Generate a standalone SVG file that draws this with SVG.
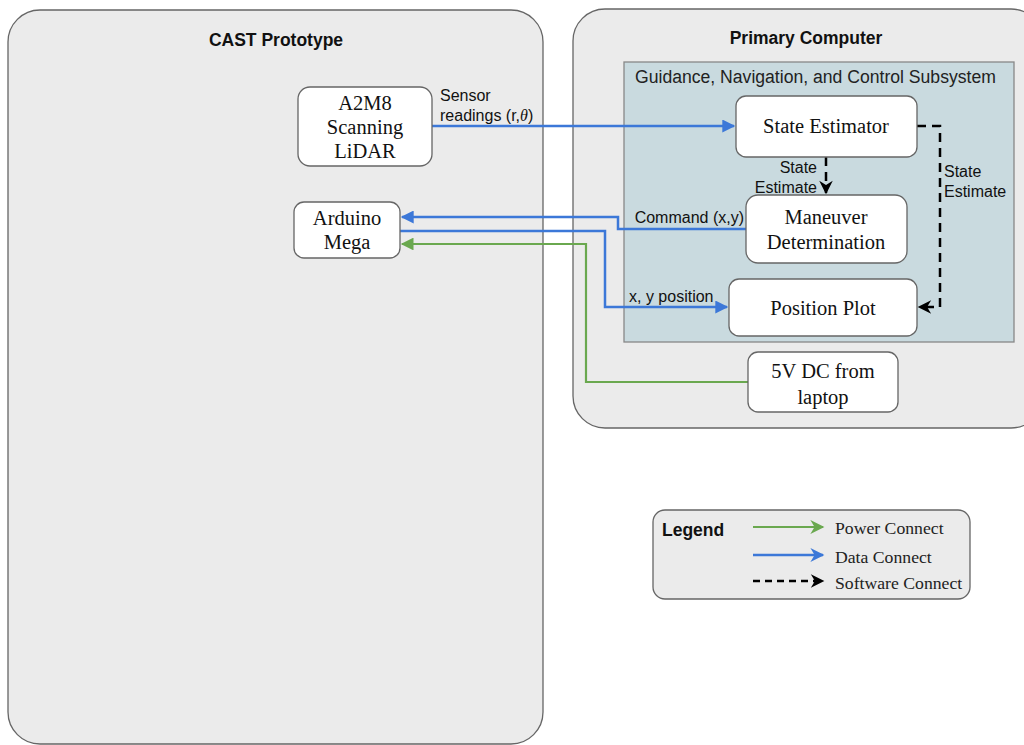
<svg xmlns="http://www.w3.org/2000/svg" width="1024" height="745" viewBox="0 0 1024 745">
<style>
.cont{fill:#ebebeb;stroke:#666;stroke-width:1.3}
.gnc{fill:#c9dadf;stroke:#888;stroke-width:1.3}
.node{fill:#fff;stroke:#666;stroke-width:1.3}
.nt{font-family:"Liberation Serif",serif;font-size:20.5px;fill:#111;text-anchor:middle}
.lt{font-family:"Liberation Serif",serif;font-size:17.7px;fill:#222}
.title{font-family:"Liberation Sans",Arial,sans-serif;font-size:17.5px;font-weight:bold;fill:#111;text-anchor:middle}
.lab{font-family:"Liberation Sans",Arial,sans-serif;font-size:16px;fill:#111}
.blue{fill:none;stroke:#3c78d8;stroke-width:2.5}
.green{fill:none;stroke:#6aa84f;stroke-width:2.2}
.dash{fill:none;stroke:#000;stroke-width:2.5;stroke-dasharray:9 6}
</style>
<defs>
<marker id="ab" viewBox="0 0 10 10" refX="9" refY="5" markerWidth="7" markerHeight="5.2" markerUnits="strokeWidth" orient="auto"><path d="M0,0 L10,5 L0,10 z" fill="#3c78d8"/></marker>
<marker id="ag" viewBox="0 0 10 10" refX="9" refY="5" markerWidth="8" markerHeight="5.8" markerUnits="strokeWidth" orient="auto"><path d="M0,0 L10,5 L0,10 z" fill="#6aa84f"/></marker>
<marker id="ak" viewBox="0 0 10 10" refX="9" refY="5" markerWidth="6.2" markerHeight="5.4" markerUnits="strokeWidth" orient="auto"><path d="M0,0 L10,5 L0,10 L3,5 z" fill="#000"/></marker>
<marker id="lb" viewBox="0 0 10 10" refX="9" refY="5" markerWidth="7.5" markerHeight="5.6" markerUnits="strokeWidth" orient="auto"><path d="M0,0 L10,5 L0,10 L3,5 z" fill="#3c78d8"/></marker>
<marker id="lg" viewBox="0 0 10 10" refX="9" refY="5" markerWidth="8.5" markerHeight="6.4" markerUnits="strokeWidth" orient="auto"><path d="M0,0 L10,5 L0,10 L3,5 z" fill="#6aa84f"/></marker>
</defs>
<g id="cast-prototype">
<rect class="cont" x="8" y="10" width="535" height="734" rx="32"/>
<text class="title" x="276" y="46">CAST Prototype</text>
</g>
<g id="primary-computer">
<rect class="cont" x="573" y="9" width="470" height="419" rx="32"/>
<text class="title" x="806" y="44">Primary Computer</text>
</g>
<g id="gnc-subsystem">
<rect class="gnc" x="624" y="62" width="390" height="280"/>
<text class="lab" x="635" y="83" style="font-size:17.6px;fill:#222">Guidance, Navigation, and Control Subsystem</text>
</g>
<g id="connectors">
<path class="blue" d="M432,126 H734" marker-end="url(#ab)"/>
<path class="blue" d="M746,229 H618 V217 H402" marker-end="url(#ab)"/>
<path class="blue" d="M400,231 H605 V307 H727" marker-end="url(#ab)"/>
<path class="green" d="M748,382 H586 V244 H402" marker-end="url(#ag)"/>
<path class="dash" d="M826,157 V193" marker-end="url(#ak)"/>
<path class="dash" d="M917,126 H940 V307 H919" marker-end="url(#ak)"/>
<text class="lab" x="440" y="101">Sensor</text>
<text class="lab" x="440" y="121">readings (r,<tspan font-family="Liberation Serif,serif" font-style="italic">θ</tspan>)</text>
<text class="lab" x="744" y="223" text-anchor="end">Command (x,y)</text>
<text class="lab" x="629" y="302">x, y position</text>
<text class="lab" x="817" y="173" text-anchor="end">State</text>
<text class="lab" x="817" y="193" text-anchor="end">Estimate</text>
<text class="lab" x="944" y="177">State</text>
<text class="lab" x="944" y="197">Estimate</text>
</g>
<g id="a2m8-lidar">
<rect class="node" x="298" y="87" width="134" height="79" rx="12"/>
<text class="nt" x="365" y="110">A2M8</text>
<text class="nt" x="365" y="134">Scanning</text>
<text class="nt" x="365" y="158">LiDAR</text>
</g>
<g id="arduino-mega">
<rect class="node" x="294" y="202" width="106" height="56" rx="10"/>
<text class="nt" x="347" y="225">Arduino</text>
<text class="nt" x="347" y="249">Mega</text>
</g>
<g id="state-estimator">
<rect class="node" x="736" y="96" width="181" height="61" rx="10"/>
<text class="nt" x="826" y="133">State Estimator</text>
</g>
<g id="maneuver-determination">
<rect class="node" x="746" y="195" width="161" height="68" rx="12"/>
<text class="nt" x="826" y="224">Maneuver</text>
<text class="nt" x="826" y="249">Determination</text>
</g>
<g id="position-plot">
<rect class="node" x="729" y="279" width="188" height="57" rx="10"/>
<text class="nt" x="823" y="315">Position Plot</text>
</g>
<g id="power-5v">
<rect class="node" x="748" y="352" width="150" height="60" rx="10"/>
<text class="nt" x="823" y="378">5V DC from</text>
<text class="nt" x="823" y="404">laptop</text>
</g>
<g id="legend">
<rect class="cont" x="653" y="510" width="317" height="89" rx="12"/>
<text class="title" x="662" y="536" style="text-anchor:start">Legend</text>
<path class="green" d="M753,527 H823" marker-end="url(#lg)"/>
<path class="blue" d="M753,555 H823" marker-end="url(#lb)"/>
<path class="dash" d="M753,581 H823" style="stroke-dasharray:7 5" marker-end="url(#ak)"/>
<text class="lt" x="835" y="534">Power Connect</text>
<text class="lt" x="835" y="563">Data Connect</text>
<text class="lt" x="835" y="589">Software Connect</text>
</g>
</svg>
